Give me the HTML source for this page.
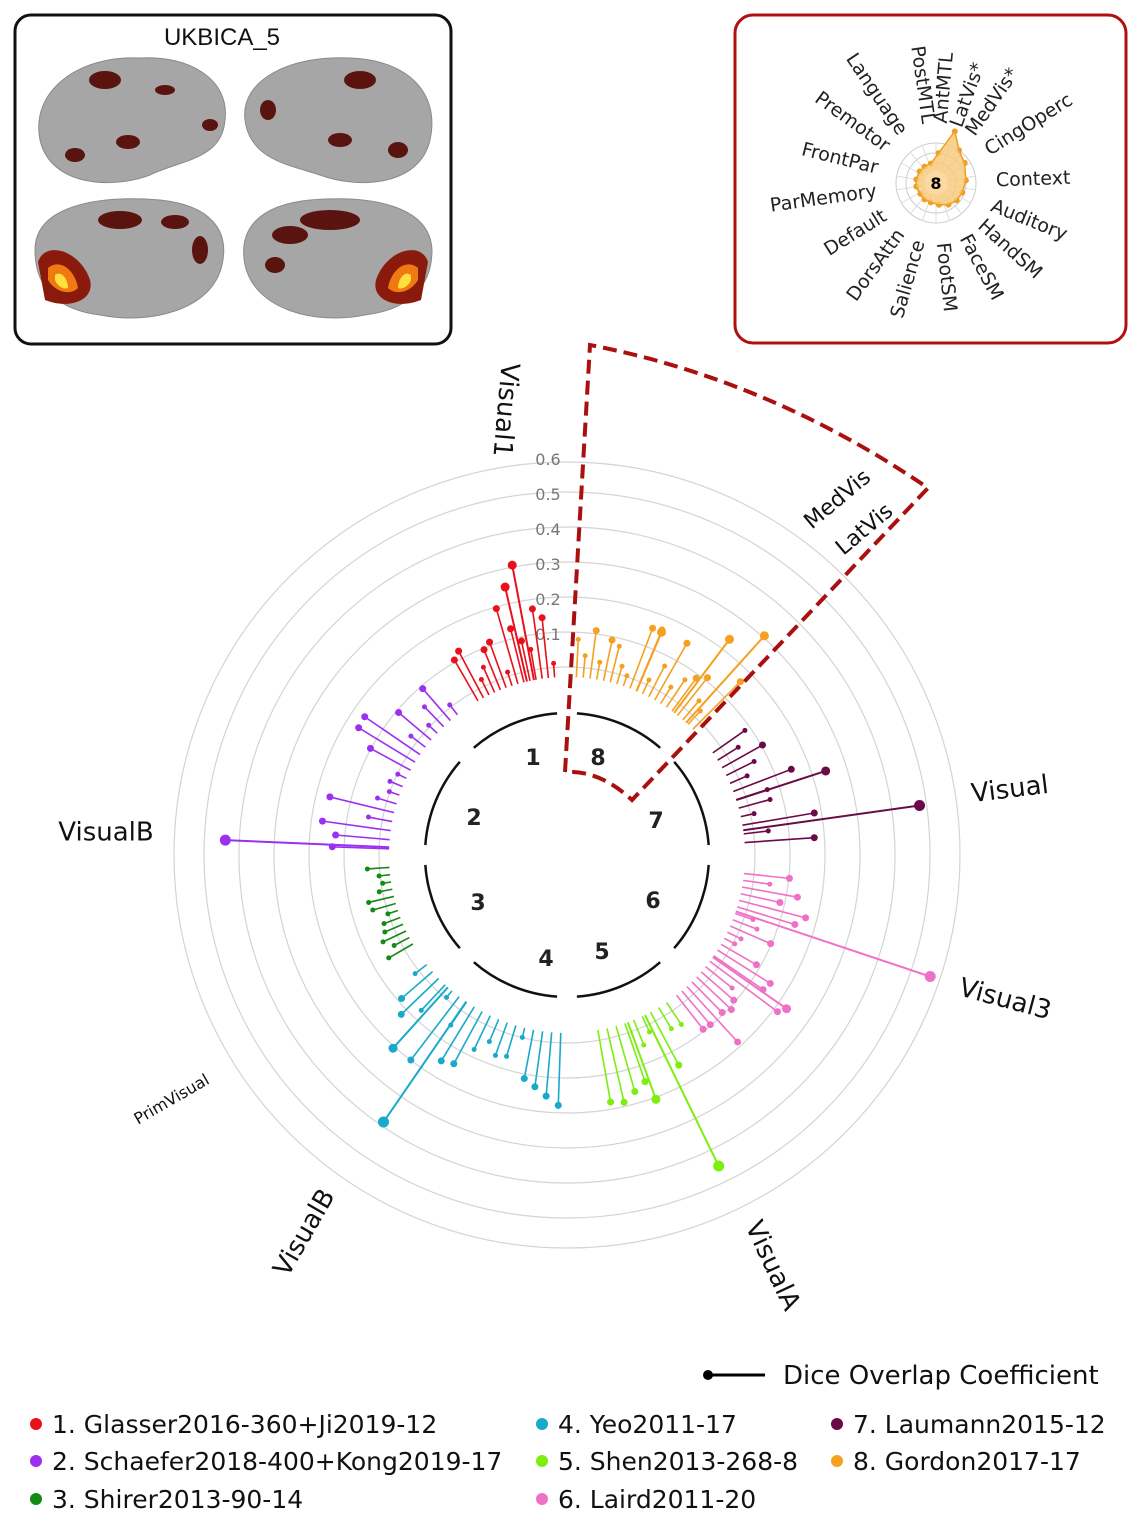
<!DOCTYPE html>
<html><head><meta charset="utf-8"><style>
body{margin:0;background:#fff;}
svg{display:block;font-family:"DejaVu Sans","Liberation Sans",sans-serif;}
</style></head><body>
<svg id="s" width="1138" height="1521" viewBox="0 0 1138 1521" xmlns="http://www.w3.org/2000/svg">
<rect x="15" y="15" width="436" height="329" rx="16" fill="#fff" stroke="#111" stroke-width="3"/>
<text x="222" y="45" font-size="24" text-anchor="middle" fill="#111" font-family="Liberation Sans">UKBICA_5</text>
<g fill="#a6a6a6" stroke="#8a8a8a">
<path d="M40,140 C30,90 80,55 140,58 C190,55 230,80 225,120 C222,160 180,160 150,175 C110,190 50,185 40,140Z"/>
<path d="M245,120 C240,80 290,55 350,58 C410,60 440,95 430,140 C420,185 360,190 320,175 C290,165 250,160 245,120Z"/>
<path d="M35,250 C35,205 100,195 160,200 C210,205 230,230 222,265 C212,310 150,325 100,315 C60,310 35,290 35,250Z"/>
<path d="M245,265 C238,230 258,205 310,200 C370,195 430,205 432,250 C432,290 405,310 365,315 C315,325 255,310 245,265Z"/>
</g>
<g fill="#5a1410">
<ellipse cx="105" cy="80" rx="16" ry="9"/><ellipse cx="128" cy="142" rx="12" ry="7"/><ellipse cx="75" cy="155" rx="10" ry="7"/><ellipse cx="165" cy="90" rx="10" ry="5"/><ellipse cx="210" cy="125" rx="8" ry="6"/>
<ellipse cx="360" cy="80" rx="16" ry="9"/><ellipse cx="268" cy="110" rx="8" ry="10"/><ellipse cx="340" cy="140" rx="12" ry="7"/><ellipse cx="398" cy="150" rx="10" ry="8"/>
<ellipse cx="120" cy="220" rx="22" ry="9"/><ellipse cx="175" cy="222" rx="14" ry="7"/><ellipse cx="200" cy="250" rx="8" ry="14"/>
<ellipse cx="330" cy="220" rx="30" ry="10"/><ellipse cx="290" cy="235" rx="18" ry="9"/><ellipse cx="275" cy="265" rx="10" ry="8"/>
</g>
<path d="M38,262 C45,240 80,250 90,280 C95,300 70,310 45,300Z" fill="#8a1a0c"/>
<path d="M48,268 C60,258 75,270 78,288 C70,296 55,292 48,280Z" fill="#f07a12"/>
<path d="M55,275 C62,270 68,280 68,288 C62,290 57,285 55,280Z" fill="#ffe040"/>
<path d="M428,262 C421,240 386,250 376,280 C371,300 396,310 421,300Z" fill="#8a1a0c"/>
<path d="M418,268 C406,258 391,270 388,288 C396,296 411,292 418,280Z" fill="#f07a12"/>
<path d="M411,275 C404,270 398,280 398,288 C404,290 409,285 411,280Z" fill="#ffe040"/>
<rect x="735" y="15" width="391" height="328" rx="18" fill="#fff" stroke="#b01010" stroke-width="3"/>
<g id="mini"></g>
<g id="main"></g>
<line x1="708" y1="1375" x2="765" y2="1375" stroke="#000" stroke-width="3"/><circle cx="708" cy="1375" r="5" fill="#000"/>
<text x="783" y="1384" font-size="26" fill="#111">Dice Overlap Coefficient</text>
<g font-size="25" fill="#111">
<circle cx="36" cy="1424" r="6" fill="#e8101a"/><text x="52" y="1433">1. Glasser2016-360+Ji2019-12</text>
<circle cx="36" cy="1461" r="6" fill="#9b30f0"/><text x="52" y="1470">2. Schaefer2018-400+Kong2019-17</text>
<circle cx="36" cy="1499" r="6" fill="#138a13"/><text x="52" y="1508">3. Shirer2013-90-14</text>
<circle cx="542" cy="1424" r="6" fill="#18aac8"/><text x="558" y="1433">4. Yeo2011-17</text>
<circle cx="542" cy="1461" r="6" fill="#7cee10"/><text x="558" y="1470">5. Shen2013-268-8</text>
<circle cx="542" cy="1499" r="6" fill="#f070c8"/><text x="558" y="1508">6. Laird2011-20</text>
<circle cx="837" cy="1424" r="6" fill="#6a0a48"/><text x="853" y="1433">7. Laumann2015-12</text>
<circle cx="837" cy="1461" r="6" fill="#f5a020"/><text x="853" y="1470">8. Gordon2017-17</text>
</g>
</svg>
<script>
var NS="http://www.w3.org/2000/svg";
function el(p,t,a,txt){var e=document.createElementNS(NS,t);for(var k in a)e.setAttribute(k,a[k]);if(txt)e.textContent=txt;p.appendChild(e);return e;}
var cx=567,cy=855,m=document.getElementById('main');
function P(r,a){a=a*Math.PI/180;return[cx+r*Math.sin(a),cy-r*Math.cos(a)];}
[188,223,258,293,328,363,393].forEach(function(r){el(m,'circle',{cx:cx,cy:cy,r:r,fill:'none',stroke:'#d4d4d4','stroke-width':1.2});});
['0.1','0.2','0.3','0.4','0.5','0.6'].forEach(function(t,i){el(m,'text',{x:548,y:640-i*35,'font-size':16,fill:'#777','text-anchor':'middle'},t);});
for(var i=0;i<8;i++){var a0=i*45+4,a1=i*45+41;var p0=P(142,a0),p1=P(142,a1);
el(m,'path',{d:'M'+p0[0]+','+p0[1]+' A142,142 0 0 1 '+p1[0]+','+p1[1],fill:'none',stroke:'#111','stroke-width':2.5});}
[[533,765,'1'],[598,765,'8'],[474,825,'2'],[656,828,'7'],[478,910,'3'],[653,908,'6'],[546,966,'4'],[602,959,'5']].forEach(function(n){el(m,'text',{x:n[0],y:n[1],'font-size':22,'font-weight':'bold','text-anchor':'middle',fill:'#222'},n[2]);});
var seed=7;function rnd(){seed=(seed*9301+49297)%233280;return seed/233280;}
var groups=[
 {c:'#e8101a',a0:-30,a1:-4,n:14,max:80,big:[[-10.7,295],[-13,275]]},
 {c:'#f5a020',a0:3,a1:45,n:20,max:60,big:[[42,295],[37,270],[23,242]]},
 {c:'#6a0a48',a0:55,a1:86,n:12,max:70,big:[[82,356],[72,272]]},
 {c:'#f070c8',a0:96,a1:142,n:22,max:80,big:[[108.5,383],[125,268]]},
 {c:'#7cee10',a0:146,a1:170,n:9,max:70,big:[[154,346],[160,260]]},
 {c:'#18aac8',a0:182,a1:232,n:18,max:75,big:[[214.5,324],[222,260]]},
 {c:'#138a13',a0:240,a1:266,n:12,max:20,big:[]},
 {c:'#9b30f0',a0:272,a1:322,n:18,max:70,big:[[272.5,342]]}];
groups.forEach(function(g){
 for(var k=0;k<g.n;k++){var a=g.a0+(g.a1-g.a0)*k/(g.n-1);var L=8+rnd()*g.max;var r0=178;
  var p0=P(r0,a),p1=P(r0+L,a);el(m,'line',{x1:p0[0],y1:p0[1],x2:p1[0],y2:p1[1],stroke:g.c,'stroke-width':1.6});
  el(m,'circle',{cx:p1[0],cy:p1[1],r:L>40?3.5:2.5,fill:g.c});}
 g.big.forEach(function(b){var p0=P(178,b[0]),p1=P(b[1],b[0]);el(m,'line',{x1:p0[0],y1:p0[1],x2:p1[0],y2:p1[1],stroke:g.c,'stroke-width':2});
  el(m,'circle',{cx:p1[0],cy:p1[1],r:b[1]>320?5.5:4.5,fill:g.c});});
});
el(m,'path',{d:'M565,772 L590,345 Q770,380 928,488 L632,800 Q600,770 565,772',fill:'none',stroke:'#aa1010','stroke-width':4,'stroke-dasharray':'14,7'});
function lab(x,y,rot,t,fs){el(m,'text',{x:x,y:y,'font-size':fs||26,'text-anchor':'middle','dominant-baseline':'middle',fill:'#111',transform:'rotate('+rot+' '+x+' '+y+')'},t);}
lab(505,410,95,'Visual1');lab(838,500,-40,'MedVis',22);lab(865,530,-40,'LatVis',22);
lab(1010,790,-7,'Visual');lab(1005,1000,15,'Visual3');lab(772,1266,65,'VisualA');lab(305,1233,-60,'VisualB');
lab(172,1100,-30,'PrimVisual',16);lab(106,833,0,'VisualB');
var mm=document.getElementById('mini'),mx=936,my=183;
[10,20,30,40].forEach(function(r){el(mm,'circle',{cx:mx,cy:my,r:r,fill:'none',stroke:'#ccc','stroke-width':1});});
for(var a=0;a<360;a+=20){var q=a*Math.PI/180;el(mm,'line',{x1:mx,y1:my,x2:mx+40*Math.sin(q),y2:my-40*Math.cos(q),stroke:'#ddd','stroke-width':1});}
var vals=[[5,30],[20,55],[35,40],[55,35],[85,30],[110,28],[130,27],[150,25],[172,22],[195,20],[215,20],[235,19],[260,20],[280,20],[305,20],[325,20],[345,20]];
var d='';vals.forEach(function(v,i){var q=v[0]*Math.PI/180;d+=(i?'L':'M')+(mx+v[1]*Math.sin(q))+','+(my-v[1]*Math.cos(q));
 el(mm,'circle',{cx:mx+v[1]*Math.sin(q),cy:my-v[1]*Math.cos(q),r:3,fill:'#f0a020'});});
el(mm,'path',{d:d+'Z',fill:'#f8c878','fill-opacity':0.8,stroke:'#f0a020','stroke-width':1.5});
el(mm,'circle',{cx:mx,cy:my,r:12,fill:'#fbd9a0'});
el(mm,'text',{x:mx,y:my+6,'font-size':16,'font-weight':'bold','text-anchor':'middle'},'8');
var labs=[[-8,'PostMTL'],[5,'AntMTL'],[20,'LatVis*'],[35,'MedVis*'],[58,'CingOperc'],[88,'Context'],[112,'Auditory'],[132,'HandSM'],[152,'FaceSM'],[174,'FootSM'],[196,'Salience'],[216,'DorsAttn'],[238,'Default'],[262,'ParMemory'],[284,'FrontPar'],[306,'Premotor'],[326,'Language']];
labs.forEach(function(l){var a=l[0],q=a*Math.PI/180,r=60;var x=mx+r*Math.sin(q),y=my-r*Math.cos(q);var an=(a+360)%360;
 var rot,anch;if(an<180){rot=an-90;anch='start';}else{rot=an+90;anch='end';}
 el(mm,'text',{x:x,y:y,'font-size':19,fill:'#222','text-anchor':anch,'dominant-baseline':'middle',transform:'rotate('+rot+' '+x+' '+y+')'},l[1]);});
</script>
</body></html>
